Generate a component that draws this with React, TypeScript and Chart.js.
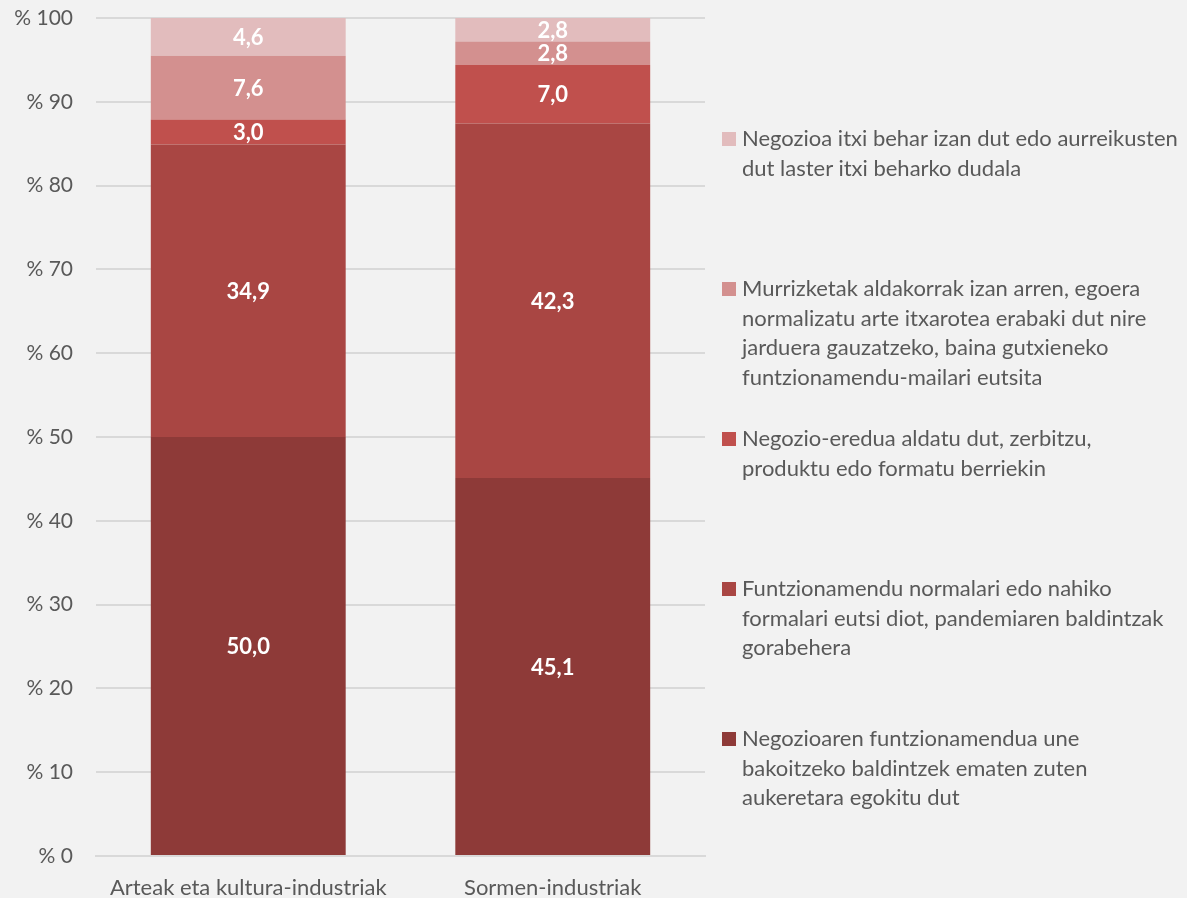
import React, { useEffect, useRef } from "react";
import { Chart, registerables } from "chart.js";

Chart.register(...registerables);

const categories = ["Arteak eta kultura-industriak", "Sormen-industriak"];

const seriesLabels = [
  "Negozioaren funtzionamendua une bakoitzeko baldintzek ematen zuten aukeretara egokitu dut",
  "Funtzionamendu normalari edo nahiko formalari eutsi diot, pandemiaren baldintzak gorabehera",
  "Negozio-eredua aldatu dut, zerbitzu, produktu edo formatu berriekin",
  "Murrizketak aldakorrak izan arren, egoera normalizatu arte itxarotea erabaki dut nire jarduera gauzatzeko, baina gutxieneko funtzionamendu-mailari eutsita",
  "Negozioa itxi behar izan dut edo aurreikusten dut laster itxi beharko dudala",
];

const legendLines = [
  ["Negozioaren funtzionamendua une", "bakoitzeko baldintzek ematen zuten", "aukeretara egokitu dut"],
  ["Funtzionamendu normalari edo nahiko", "formalari eutsi diot, pandemiaren baldintzak", "gorabehera"],
  ["Negozio-eredua aldatu dut, zerbitzu,", "produktu edo formatu berriekin"],
  ["Murrizketak aldakorrak izan arren, egoera", "normalizatu arte itxarotea erabaki dut nire", "jarduera gauzatzeko, baina gutxieneko", "funtzionamendu-mailari eutsita"],
  ["Negozioa itxi behar izan dut edo aurreikusten", "dut laster itxi beharko dudala"],
];

const adapted = [50.0, 45.1];
const normal = [34.9, 42.3];
const newModel = [3.0, 7.0];
const waiting = [7.6, 2.8];
const closed = [4.6, 2.8];

const seriesValues = [adapted, normal, newModel, waiting, closed];
const colors = ["#8E3A38", "#A94643", "#C0504D", "#D3908F", "#E2BCBD"];

const yTicks = [0, 10, 20, 30, 40, 50, 60, 70, 80, 90, 100];

const FONT = "Lato, 'Open Sans', sans-serif";

const valueLabelPlugin = {
  id: "valueLabels",
  afterDatasetsDraw(chart: any) {
    const ctx = chart.ctx;
    ctx.save();
    ctx.fillStyle = "#FFFFFF";
    ctx.font = `bold 22px ${FONT}`;
    ctx.textAlign = "center";
    ctx.textBaseline = "middle";
    chart.data.datasets.forEach((ds: any, di: number) => {
      const meta = chart.getDatasetMeta(di);
      meta.data.forEach((bar: any, i: number) => {
        const v = ds.data[i];
        const top = Math.max(bar.y, chart.chartArea.top);
        const y = (top + bar.base) / 2;
        ctx.fillText(v.toFixed(1).replace(".", ","), bar.x, y + 1);
      });
    });
    ctx.restore();
  },
};

export default function App() {
  const canvasRef = useRef<HTMLCanvasElement>(null);

  useEffect(() => {
    const chart = new Chart(canvasRef.current!, {
      type: "bar",
      data: {
        labels: categories,
        datasets: seriesValues.map((vals, i) => ({
          label: seriesLabels[i],
          data: vals,
          backgroundColor: colors[i],
          borderWidth: 0,
          barPercentage: 0.64,
          categoryPercentage: 1,
        })),
      },
      options: {
        animation: false,
        responsive: false,
        maintainAspectRatio: false,
        layout: { padding: { left: 0, right: 482, top: 18, bottom: 0 } },
        plugins: {
          legend: { display: false },
          tooltip: { enabled: false },
        },
        scales: {
          x: {
            stacked: true,
            grid: { display: false, drawTicks: false },
            border: { display: true, color: "#D9D9D9", width: 2 },
            ticks: {
              color: "#595959",
              font: { family: FONT, size: 22 },
              padding: 19,
              maxRotation: 0,
              minRotation: 0,
              autoSkip: false,
            },
            afterFit: (s: any) => {
              s.height = 42;
              s.paddingLeft = 0;
              s.paddingRight = 0;
            },
          },
          y: {
            stacked: true,
            min: 0,
            max: 100,
            afterBuildTicks: (s: any) => {
              s.ticks = yTicks.map((v) => ({ value: v }));
            },
            grid: { color: "#D9D9D9", lineWidth: 2, drawTicks: false },
            border: { display: false },
            ticks: {
              color: "#595959",
              font: { family: FONT, size: 21 },
              padding: 23,
              callback: (v: any) => `% ${v}`,
            },
            afterFit: (s: any) => {
              s.width = 96;
              s.paddingTop = 0;
              s.paddingBottom = 0;
            },
          },
        },
      },
      plugins: [valueLabelPlugin],
    });
    return () => chart.destroy();
  }, []);

  const order = [4, 3, 2, 1, 0];

  return (
    <div style={{ position: "fixed", left: 0, top: 0, width: 1187, height: 898, background: "#F2F2F2", overflow: "hidden" }}>
      <canvas ref={canvasRef} width={1187} height={898} style={{ position: "absolute", left: 0, top: 0 }} />
      {order.map((si, k) => (
        <div
          key={si}
          style={{
            position: "absolute",
            left: 722,
            top: 123 + k * 150,
            fontFamily: FONT,
            fontSize: 22,
            lineHeight: "29.5px",
            color: "#595959",
            whiteSpace: "nowrap",
          }}
        >
          <span
            style={{
              position: "absolute",
              left: 0,
              top: 9,
              width: 14,
              height: 14,
              background: colors[si],
            }}
          />
          <div style={{ marginLeft: 20 }}>
            {legendLines[si].map((l, j) => (
              <div key={j}>{l}</div>
            ))}
          </div>
        </div>
      ))}
    </div>
  );
}
